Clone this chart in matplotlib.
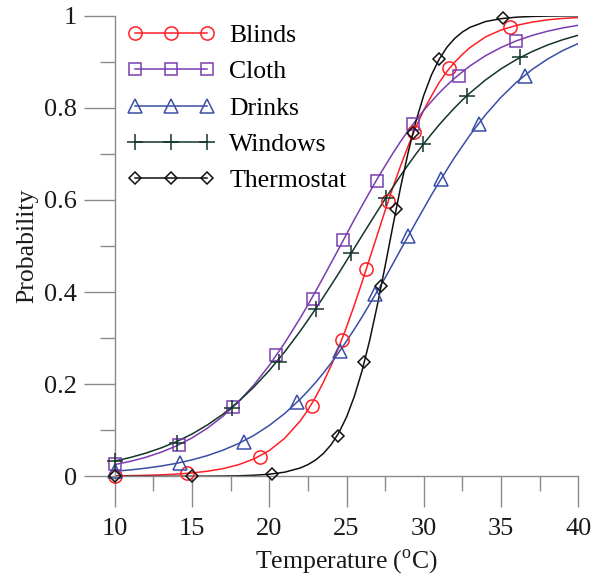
import matplotlib
matplotlib.use('Agg')
import matplotlib.pyplot as plt

plt.rcParams['font.family'] = ['Liberation Serif', 'DejaVu Serif']
plt.rcParams['mathtext.fontset'] = 'custom'
plt.rcParams['mathtext.rm'] = 'Liberation Serif'

# curve samples (temperature, probability)
x_grid = [10, 11, 12, 13, 14, 15, 16, 17, 18, 19, 20, 21, 22, 22.5, 23, 23.5, 24, 24.5,
          25, 25.5, 26, 26.5, 27, 27.5, 28, 28.5, 29, 29.5, 30, 30.5, 31, 31.5, 32, 32.5,
          33, 34, 35, 36, 37, 38, 39, 40]

blinds_y = [0.0009, 0.0014, 0.0021, 0.0032, 0.0048, 0.0073, 0.011, 0.0166, 0.0251, 0.0376,
            0.0559, 0.0826, 0.120, 0.144, 0.172, 0.204, 0.240, 0.280, 0.324, 0.371, 0.421,
            0.473, 0.525, 0.577, 0.627, 0.674, 0.718, 0.759, 0.795, 0.826, 0.855, 0.879,
            0.899, 0.916, 0.931, 0.954, 0.969, 0.979, 0.986, 0.991, 0.994, 0.996]

cloth_y = [0.0254, 0.0324, 0.0412, 0.0523, 0.0661, 0.0833, 0.1045, 0.1303, 0.1614, 0.1981,
           0.2408, 0.2895, 0.3434, 0.372, 0.4018, 0.432, 0.4631, 0.494, 0.5257, 0.557,
           0.5873, 0.617, 0.6464, 0.674, 0.7013, 0.727, 0.7508, 0.773, 0.7946, 0.814,
           0.8324, 0.849, 0.8645, 0.878, 0.8912, 0.9132, 0.931, 0.9455, 0.957, 0.9662,
           0.9735, 0.9792]

drinks_y = [0.0109, 0.0139, 0.0176, 0.0223, 0.0282, 0.0357, 0.045, 0.0567, 0.071, 0.0887,
            0.1104, 0.1364, 0.1674, 0.185, 0.2038, 0.224, 0.2458, 0.269, 0.2934, 0.319,
            0.3457, 0.374, 0.4023, 0.431, 0.4613, 0.492, 0.5217, 0.552, 0.5815, 0.611,
            0.6388, 0.666, 0.6925, 0.717, 0.7413, 0.785, 0.823, 0.8555, 0.8829, 0.9056,
            0.9244, 0.9396]

windows_y = [0.0331, 0.0408, 0.0502, 0.0616, 0.0753, 0.0918, 0.1116, 0.1348, 0.1621, 0.1937,
             0.2297, 0.2703, 0.315, 0.339, 0.3635, 0.389, 0.4148, 0.441, 0.468, 0.495,
             0.5222, 0.549, 0.5757, 0.602, 0.6276, 0.653, 0.6766, 0.700, 0.722, 0.743,
             0.7633, 0.782, 0.8001, 0.817, 0.8326, 0.8606, 0.8846, 0.9049, 0.9219, 0.9362,
             0.9479, 0.9577]

thermo_y = [0.0, 0.0, 0.0, 0.0, 0.0001, 0.0001, 0.0003, 0.0006, 0.0011, 0.0023, 0.0045,
            0.009, 0.018, 0.0253, 0.0354, 0.0494, 0.0685, 0.0943, 0.1285, 0.1728, 0.2283,
            0.2953, 0.3724, 0.4566, 0.5434, 0.6276, 0.7047, 0.7717, 0.8272, 0.8715, 0.9057,
            0.9315, 0.9506, 0.9646, 0.9748, 0.9873, 0.9936, 0.9968, 0.9984, 0.9992, 0.9996,
            0.9998]

# marker positions
blinds_mx = [10, 14.7, 19.4, 22.75, 24.7, 26.25, 27.7, 29.35, 31.65, 35.55]
blinds_my = [0.0, 0.007, 0.041, 0.153, 0.297, 0.449, 0.598, 0.748, 0.887, 0.976]
cloth_mx = [10, 14.15, 17.68, 20.44, 22.82, 24.8, 26.96, 29.29, 32.3, 35.97]
cloth_my = [0.026, 0.068, 0.151, 0.263, 0.386, 0.513, 0.641, 0.764, 0.869, 0.944]
drinks_mx = [10, 14.23, 18.39, 21.82, 24.58, 26.85, 29.0, 31.1, 33.6, 36.56]
drinks_my = [0.011, 0.029, 0.075, 0.162, 0.273, 0.395, 0.522, 0.645, 0.764, 0.869]
windows_mx = [10, 14.01, 17.61, 20.63, 23.03, 25.29, 27.56, 29.98, 32.78, 36.23]
windows_my = [0.033, 0.072, 0.148, 0.249, 0.363, 0.484, 0.604, 0.721, 0.826, 0.91]
thermo_mx = [10, 15.03, 20.2, 24.43, 26.16, 27.24, 28.21, 29.33, 31.01, 35.11]
thermo_my = [0.0, 0.0, 0.005, 0.088, 0.248, 0.413, 0.58, 0.746, 0.907, 0.996]

series = [
    ('Blinds', blinds_y, blinds_mx, blinds_my, '#ff1f26', 'o', 9.5),
    ('Cloth', cloth_y, cloth_mx, cloth_my, '#7a3db0', 's', 9),
    ('Drinks', drinks_y, drinks_mx, drinks_my, '#3a4ea6', '^', 9.5),
    ('Windows', windows_y, windows_mx, windows_my, '#13352a', '+', 12),
    ('Thermostat', thermo_y, thermo_mx, thermo_my, '#111111', 'D', 6.5),
]

fig = plt.figure(figsize=(6.01, 5.77), dpi=100)
ax = fig.add_axes([0.1909, 0.1745, 0.7713, 0.7983])

for name, ys, mx, my, color, marker, ms in series:
    ax.plot(x_grid, ys, color=color, lw=1.1)
    ax.plot(mx, my, linestyle='none', marker=marker, ms=ms, mfc='none', mec=color,
            mew=1.1, clip_on=False, zorder=3)
    # legend proxy
    ax.plot([], [], color=color, lw=1.1, marker=marker, ms=ms, mfc='none', mec=color,
            mew=1.1, label=name)

ax.set_xlim(10, 40)
ax.set_ylim(0, 1)
ax.set_xticks([10, 15, 20, 25, 30, 35, 40])
ax.set_xticks([12.5, 17.5, 22.5, 27.5, 32.5, 37.5], minor=True)
ax.set_yticks([0, 0.2, 0.4, 0.6, 0.8, 1.0])
ax.set_yticklabels(['0', '0.2', '0.4', '0.6', '0.8', '1'])
ax.set_yticks([0.1, 0.3, 0.5, 0.7, 0.9], minor=True)

for s in ['top', 'right']:
    ax.spines[s].set_visible(False)
for s in ['left', 'bottom']:
    ax.spines[s].set_color('#8a8a8a')
    ax.spines[s].set_linewidth(1.0)

ax.tick_params(which='major', length=22, width=1.0, color='#8a8a8a', labelsize=19,
               labelcolor='#1a1a1a', pad=5)
ax.tick_params(which='major', axis='x', pad=8)
ax.tick_params(which='minor', length=10.8, width=1.0, color='#8a8a8a')

ax.set_xlabel('Temperature ($^{\\rm o}$C)', fontsize=18.5, color='#1a1a1a', labelpad=5)
ax.set_ylabel('Probability', fontsize=18.5, color='#1a1a1a', labelpad=4)

ax.legend(loc='upper left', bbox_to_anchor=(0.0, 1.01), borderaxespad=0.0,
          borderpad=0.5, frameon=False, fontsize=18.5, numpoints=3, handlelength=3.4,
          handletextpad=0.55, labelspacing=0.52)

fig.savefig('out.png', dpi=100)
